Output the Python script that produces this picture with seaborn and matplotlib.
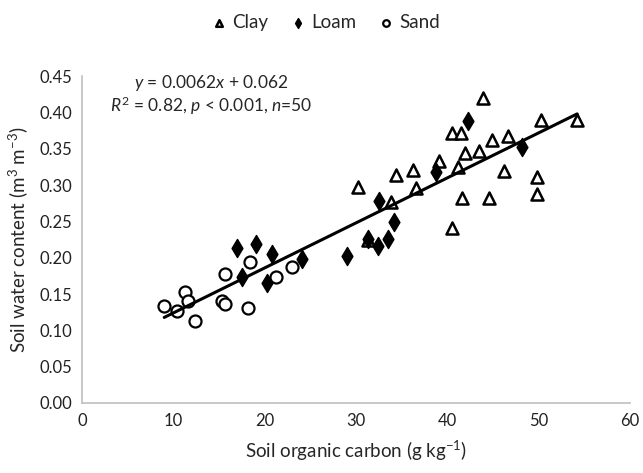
import numpy as np
import pandas as pd
import matplotlib
matplotlib.use("Agg")
import matplotlib.pyplot as plt
import seaborn as sns

# ---- data ----
clay_x = [30.2, 31.3, 33.8, 34.4, 36.2, 36.6, 39.1, 40.5, 40.5, 41.2, 41.5, 41.6,
          41.9, 43.5, 43.9, 44.6, 44.9, 46.2, 46.6, 49.8, 49.8, 50.2, 54.2]
clay_y = [0.297, 0.224, 0.277, 0.314, 0.321, 0.296, 0.333, 0.241, 0.372, 0.325, 0.372, 0.282,
          0.344, 0.347, 0.420, 0.282, 0.362, 0.319, 0.367, 0.311, 0.288, 0.389, 0.389]
loam_x = [17.0, 17.5, 19.1, 20.3, 20.8, 24.1, 29.0, 31.3, 32.4, 32.5, 33.5, 34.2, 38.8, 42.3, 48.2]
loam_y = [0.213, 0.173, 0.219, 0.165, 0.205, 0.198, 0.202, 0.226, 0.216, 0.278, 0.226, 0.249,
          0.318, 0.388, 0.352]
sand_x = [9.0, 10.4, 11.3, 11.6, 12.4, 15.3, 15.7, 15.6, 18.2, 18.4, 21.2, 23.0]
sand_y = [0.133, 0.127, 0.153, 0.140, 0.113, 0.140, 0.136, 0.177, 0.131, 0.194, 0.173, 0.187]

slope = 0.0062
intercept = 0.062
eq_text = "$y$ = 0.0062$x$ + 0.062"
stats_text = "$R^2$ = 0.82, $p$ < 0.001, $n$=50"

x_ticks = [0, 10, 20, 30, 40, 50, 60]
y_ticks = [0.00, 0.05, 0.10, 0.15, 0.20, 0.25, 0.30, 0.35, 0.40, 0.45]

df = pd.DataFrame({
    "soc": clay_x + loam_x + sand_x,
    "swc": clay_y + loam_y + sand_y,
    "texture": ["Clay"] * len(clay_x) + ["Loam"] * len(loam_x) + ["Sand"] * len(sand_x),
})

sns.set_style("white")
plt.rcParams["font.family"] = ["Lato", "DejaVu Sans"]
plt.rcParams["mathtext.fontset"] = "custom"
plt.rcParams["mathtext.rm"] = "Lato"
plt.rcParams["mathtext.it"] = "Lato:italic"
plt.rcParams["mathtext.bf"] = "Lato:bold"

fig = plt.figure(figsize=(6.43, 4.73), dpi=100)
ax = fig.add_axes([0.1275, 0.148, 0.8525, 0.691])

styles = {
    "Clay": dict(marker="^", facecolor="white", edgecolor="black", s=75, linewidth=1.8),
    "Loam": dict(marker="d", facecolor="black", edgecolor="black", s=85, linewidth=1.0),
    "Sand": dict(marker="o", facecolor="white", edgecolor="black", s=75, linewidth=1.6),
}
for tex in ["Clay", "Loam", "Sand"]:
    sub = df[df["texture"] == tex]
    st = styles[tex]
    sns.scatterplot(data=sub, x="soc", y="swc", ax=ax, marker=st["marker"],
                    facecolor=st["facecolor"], edgecolor=st["edgecolor"],
                    s=st["s"], linewidth=st["linewidth"], label=tex, zorder=3)

# regression line
xl = np.array([df["soc"].min(), df["soc"].max()])
line_df = pd.DataFrame({"soc": xl, "swc": slope * xl + intercept})
sns.lineplot(data=line_df, x="soc", y="swc", ax=ax, color="black", linewidth=2.2,
             zorder=4, legend=False)

ax.set_xlim(0, 60)
ax.set_ylim(0, 0.45)
ax.set_xticks(x_ticks)
ax.set_xticklabels([str(t) for t in x_ticks])
ax.set_yticks(y_ticks)
ax.set_yticklabels([f"{t:.2f}" for t in y_ticks])
ax.tick_params(axis="both", length=0, labelsize=12, pad=7, colors="#222222")
ax.set_xlabel("Soil organic carbon (g kg$^{-1}$)", fontsize=13.5, labelpad=7)
ax.set_ylabel("Soil water content (m$^{3}$ m$^{-3}$)", fontsize=13.5, labelpad=7)

for side in ["top", "right"]:
    ax.spines[side].set_visible(False)
for side in ["left", "bottom"]:
    ax.spines[side].set_color("#bfbfbf")
    ax.spines[side].set_linewidth(1.2)

ax.text(0.235, 0.98, eq_text, transform=ax.transAxes, ha="center", va="center", fontsize=12.5)
ax.text(0.235, 0.91, stats_text, transform=ax.transAxes, ha="center", va="center", fontsize=12.5)

handles, labels = ax.get_legend_handles_labels()
ax.legend_.remove()
fig.legend(handles, labels, loc="center", bbox_to_anchor=(0.505, 0.953), ncol=3,
           frameon=False, fontsize=13.5, markerscale=0.55, handletextpad=0.2,
           columnspacing=1.1, handlelength=1.0)

fig.savefig("out.png", dpi=100)
